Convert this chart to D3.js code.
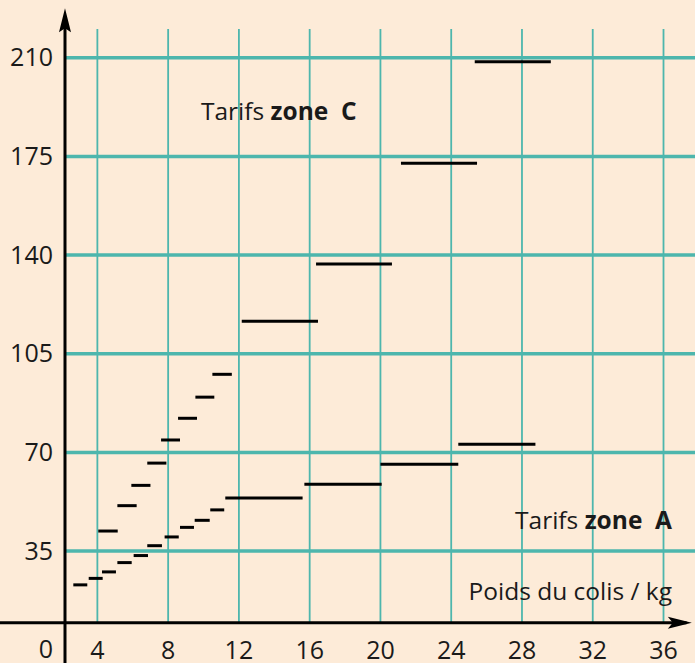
<!DOCTYPE html>
<html>
<head>
<meta charset="utf-8">
<script src="https://cdn.jsdelivr.net/npm/d3@7"></script>
<style>
  body { margin: 0; background: #fdebd8; }
  svg { display: block; }
  text { font-family: "Open Sans", sans-serif; fill: #1a1a1a; }
</style>
</head>
<body>
<script>
// tarifs zone A : debut / fin de palier (kg) et prix
const zoneAStart = [2.64, 3.51, 4.26, 5.13, 6.05, 6.82, 7.80, 8.67, 9.50, 10.38, 11.23, 15.70, 20.00, 24.40];
const zoneAEnd   = [3.43, 4.30, 5.05, 5.94, 6.86, 7.65, 8.60, 9.46, 10.35, 11.17, 15.60, 20.07, 24.40, 28.76];
const zoneAPrice = [23.0, 25.3, 27.6, 30.9, 33.4, 36.9, 40.0, 43.4, 45.9, 49.6, 53.8, 58.7, 65.8, 72.9];

// tarifs zone C
const zoneCStart = [4.05, 5.13, 5.92, 6.82, 7.60, 8.56, 9.54, 10.50, 12.16, 16.36, 21.16, 25.33];
const zoneCEnd   = [5.15, 6.22, 7.00, 7.90, 8.67, 9.63, 10.61, 11.60, 16.47, 20.65, 25.46, 29.63];
const zoneCPrice = [42.1, 51.1, 58.3, 66.2, 74.4, 82.1, 89.6, 97.7, 116.5, 136.8, 172.6, 208.6];

const xTicks = [4, 8, 12, 16, 20, 24, 28, 32, 36];
const yTicks = [0, 35, 70, 105, 140, 175, 210];

const W = 695, H = 663;
const teal = "#4db6ad";

const x = d3.scaleLinear().domain([-1.504, 37.78]).range([0, W]);
const y = d3.scaleLinear().domain([-4.72, 230.5]).range([H, 0]);

const x0 = 2.17;   // position de l'axe vertical (kg)
const y0 = 9.6;    // position de l'axe horizontal (prix)

const svg = d3.select("body").append("svg")
  .attr("width", W).attr("height", H);

svg.append("rect").attr("width", W).attr("height", H).attr("fill", "#fdebd8");

// grille verticale
svg.append("g").selectAll("line").data(xTicks).join("line")
  .attr("x1", d => x(d)).attr("x2", d => x(d))
  .attr("y1", y(220.2)).attr("y2", y(y0))
  .attr("stroke", teal).attr("stroke-width", 1.8);

// grille horizontale
svg.append("g").selectAll("line").data(yTicks.filter(d => d > 0)).join("line")
  .attr("x1", x(x0)).attr("x2", W)
  .attr("y1", d => y(d)).attr("y2", d => y(d))
  .attr("stroke", teal).attr("stroke-width", 3.5);

// axes
svg.append("line")
  .attr("x1", 0).attr("x2", x(37.3))
  .attr("y1", y(y0)).attr("y2", y(y0))
  .attr("stroke", "#000").attr("stroke-width", 3);
svg.append("line")
  .attr("x1", x(x0)).attr("x2", x(x0))
  .attr("y1", H).attr("y2", y(222))
  .attr("stroke", "#000").attr("stroke-width", 3);

// fleches
const ax = x(37.6), ay = y(y0);
svg.append("path")
  .attr("d", `M${ax},${ay} L${ax - 24},${ay - 6} L${ax - 19},${ay} L${ax - 24},${ay + 6} Z`)
  .attr("fill", "#000");
const bx = x(x0), by = y(227.6);
svg.append("path")
  .attr("d", `M${bx},${by} L${bx - 6},${by + 24} L${bx},${by + 20} L${bx + 6},${by + 24} Z`)
  .attr("fill", "#000");

// graduations
const yAxis = d3.axisLeft(y).tickValues(yTicks).tickSize(0).tickPadding(12);
const gy = svg.append("g").attr("transform", `translate(${x(x0)},0)`).call(yAxis);
gy.select(".domain").remove();
gy.selectAll("text").attr("font-size", 25).attr("font-family", "Open Sans").attr("fill", "#1a1a1a");

svg.append("g").selectAll("text").data(xTicks).join("text")
  .attr("x", d => x(d)).attr("y", 659)
  .attr("text-anchor", "middle").attr("font-size", 25)
  .text(d => d);

// paliers
function steps(start, end, price) {
  svg.append("g").selectAll("line").data(price).join("line")
    .attr("x1", (d, i) => x(start[i])).attr("x2", (d, i) => x(end[i]))
    .attr("y1", d => y(d)).attr("y2", d => y(d))
    .attr("stroke", "#000").attr("stroke-width", 3);
}
steps(zoneAStart, zoneAEnd, zoneAPrice);
steps(zoneCStart, zoneCEnd, zoneCPrice);

// etiquettes
const tc = svg.append("text").attr("x", 201).attr("y", 120).attr("font-size", 24.5);
tc.append("tspan").text("Tarifs ");
tc.append("tspan").attr("font-weight", "bold").text("zone\u00a0\u00a0C");

const ta = svg.append("text").attr("x", 672).attr("y", 529).attr("font-size", 24.5)
  .attr("text-anchor", "end");
ta.append("tspan").text("Tarifs ");
ta.append("tspan").attr("font-weight", "bold").text("zone\u00a0\u00a0A");

svg.append("text").attr("x", 672).attr("y", 600).attr("font-size", 24.5)
  .attr("text-anchor", "end").text("Poids du colis / kg");
</script>
</body>
</html>
